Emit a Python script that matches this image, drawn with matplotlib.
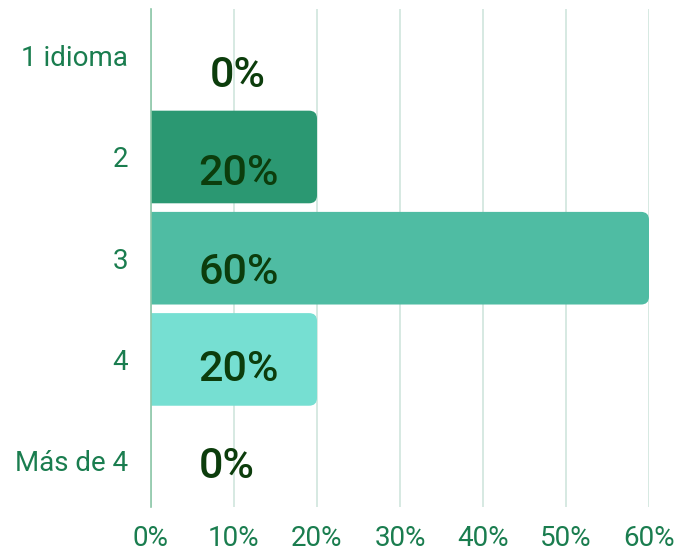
import matplotlib.pyplot as plt
from matplotlib.patches import FancyBboxPatch

#%% Datos

categorias = ['1 idioma', '2', '3', '4', 'Más de 4']
porcentajes = [0, 20, 60, 20, 0]
colores = ['#2b9872', '#2b9872', '#4fbca3', '#76dfd2', '#76dfd2']
ticks_x = [0, 10, 20, 30, 40, 50, 60]

# posición de las etiquetas de valor (borde izquierdo, línea base bajo el centro de la fila)
etiqueta_x = [7.1, 5.75, 5.75, 5.75, 5.75]
etiqueta_dy = [0.305, 0.277, 0.25, 0.213, 0.172]

#%% Gráfico

plt.rcParams['font.family'] = ['Roboto', 'DejaVu Sans']

fig = plt.figure(figsize=(6.83, 5.51), dpi=100)
ax = fig.add_axes([151 / 683, 1 - 506.7 / 551, 498 / 683, 497.7 / 551])

pos = list(range(len(categorias)))
barras = ax.barh(pos, porcentajes, height=0.915, color=colores, zorder=2)

# esquinas redondeadas a la derecha
for b, c in zip(barras, colores):
    b.set_visible(False)
    if b.get_width() == 0:
        continue
    x, y, w, h = b.get_x(), b.get_y(), b.get_width(), b.get_height()
    p = FancyBboxPatch((x - 3, y), w + 3, h, boxstyle='round,pad=0,rounding_size=0.95',
                       mutation_aspect=0.082, facecolor=c, edgecolor='none', zorder=2)
    ax.add_patch(p)

for i, v in enumerate(porcentajes):
    ax.text(etiqueta_x[i], i + etiqueta_dy[i], f'{v}%', ha='left', va='baseline',
            fontsize=31, fontweight='medium', color='#0c3d0c', zorder=3)

ax.set_xlim(0, 60)
ax.set_ylim(4.455, -0.462)
ax.set_xticks(ticks_x)
ax.set_xticklabels([f'{t}%' for t in ticks_x])
ax.set_yticks(pos)
ax.set_yticklabels(categorias)

ax.grid(axis='x', color='#cfe5dd', linewidth=1.2, zorder=0)
for s in ['top', 'right', 'bottom']:
    ax.spines[s].set_visible(False)
ax.spines['left'].set_color('#8cc7a8')
ax.spines['left'].set_linewidth(1.2)
ax.tick_params(length=0, labelsize=20, labelcolor='#1a7d4f')
ax.tick_params(axis='x', pad=13)
ax.tick_params(axis='y', pad=16.5)

fig.savefig('out.png', dpi=100)
